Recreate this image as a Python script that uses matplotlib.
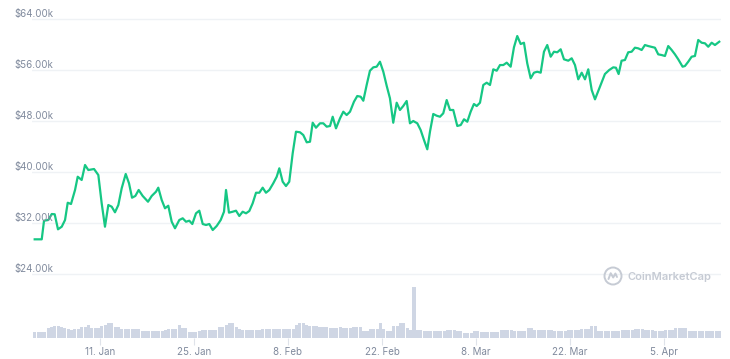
import matplotlib
matplotlib.use('Agg')
import matplotlib.pyplot as plt
import pandas as pd
import numpy as np
from matplotlib.patches import Circle
from matplotlib.lines import Line2D

start = pd.Timestamp('2021-01-01')

# days since 2021-01-01 of each price point
price_days = [
    0.27, 1.32, 1.66, 2.30, 2.81, 3.25, 3.74, 4.30, 4.79, 5.19,
    5.68, 6.28, 6.68, 7.27, 7.77, 8.26, 9.11, 9.75, 10.25, 10.74,
    11.24, 11.74, 12.23, 12.73, 13.23, 13.83, 14.32, 14.77, 15.26, 15.76,
    16.36, 17.15, 17.70, 18.34, 18.68, 19.19, 19.68, 20.17, 20.68, 21.17,
    21.81, 22.32, 22.81, 23.30, 23.75, 24.30, 24.79, 25.30, 25.79, 26.28,
    26.79, 27.38, 27.98, 28.47, 28.77, 29.21, 29.76, 30.26, 30.75, 31.25,
    31.75, 32.24, 32.74, 33.24, 33.73, 34.23, 34.72, 35.22, 35.81, 36.32,
    36.71, 37.21, 37.70, 38.19, 38.70, 39.19, 39.79, 40.28, 40.79, 41.28,
    41.68, 42.17, 42.77, 43.26, 43.77, 44.26, 44.66, 45.15, 45.75, 46.24,
    46.74, 47.24, 47.83, 48.32, 48.83, 49.22, 49.72, 50.21, 50.71, 51.21,
    51.70, 52.20, 52.71, 53.19, 53.68, 54.19, 54.68, 55.17, 55.68, 56.17,
    56.66, 57.26, 57.76, 58.26, 58.75, 59.15, 59.64, 60.15, 60.64, 61.13,
    61.64, 62.13, 62.62, 63.22, 63.73, 64.22, 64.71, 65.21, 65.70, 66.11,
    66.60, 67.09, 67.60, 68.09, 68.58, 69.09, 69.58, 70.07, 70.58, 71.17,
    71.66, 72.15, 72.66, 73.15, 73.64, 74.15, 74.64, 75.13, 75.64, 76.13,
    76.62, 77.13, 77.62, 78.11, 78.62, 79.11, 79.75, 80.26, 80.75, 81.24,
    81.75, 82.24, 82.73, 83.24, 83.73, 84.47, 85.21, 85.85, 86.45, 86.85,
    87.25, 87.69, 88.19, 88.68, 89.19, 89.68, 90.17, 90.68, 91.17, 91.66,
    92.66, 93.15, 93.66, 94.15, 94.64, 95.15, 95.64, 96.13, 96.78, 97.13,
    97.62, 98.13, 98.62, 99.11, 99.62, 100.11, 100.60, 101.11, 101.60, 102.24,
]

# price in thousands of USD
price_k = [
    29.44, 29.44, 32.36, 32.47, 33.41, 33.37, 31.01, 31.42, 32.47, 35.18,
    34.98, 37.18, 39.26, 38.75, 41.10, 40.31, 40.47, 39.53, 35.09, 31.42,
    34.82, 34.56, 33.68, 34.82, 37.44, 39.69, 38.23, 35.97, 36.24, 37.18,
    36.24, 35.34, 36.24, 36.91, 37.54, 35.61, 34.31, 34.71, 32.20, 31.17,
    32.47, 32.74, 32.20, 32.36, 31.84, 33.52, 33.93, 31.84, 31.69, 31.84,
    30.90, 31.53, 32.47, 33.77, 37.18, 33.62, 33.77, 33.93, 33.10, 33.77,
    33.52, 33.88, 35.09, 36.75, 36.75, 37.54, 36.75, 37.18, 38.23, 39.26,
    40.58, 38.48, 37.80, 38.48, 42.93, 46.32, 46.23, 45.80, 44.66, 44.75,
    47.73, 46.95, 47.64, 47.64, 47.11, 47.22, 48.67, 46.85, 48.42, 49.46,
    48.94, 49.46, 51.03, 51.92, 51.81, 51.18, 53.65, 55.89, 56.42, 56.52,
    57.30, 55.73, 53.49, 51.56, 47.73, 50.87, 49.73, 50.35, 51.14, 47.64,
    48.00, 47.64, 46.59, 45.02, 43.56, 46.32, 49.10, 48.83, 48.67, 49.21,
    51.29, 49.73, 49.73, 47.22, 47.37, 48.27, 47.89, 49.46, 50.67, 50.35,
    50.87, 53.65, 54.01, 53.65, 56.11, 55.89, 56.78, 56.78, 57.15, 56.52,
    59.56, 61.33, 60.08, 60.28, 57.05, 54.70, 55.58, 55.73, 55.58, 58.87,
    59.92, 58.09, 58.87, 58.78, 59.25, 57.68, 57.46, 57.84, 56.78, 54.54,
    55.58, 54.54, 56.11, 52.86, 51.40, 53.38, 55.37, 56.00, 56.42, 56.36,
    55.37, 57.46, 57.57, 58.78, 58.87, 59.50, 59.40, 59.14, 59.92, 59.76,
    59.50, 58.46, 58.35, 58.20, 59.76, 59.14, 58.46, 57.68, 56.52, 56.63,
    57.30, 58.09, 58.20, 60.71, 60.28, 60.19, 59.65, 60.28, 59.92, 60.44,
]

# relative traded volume, one value per 12 hours
volume_first_day = 0.27
volume_step_days = 0.5
volume_rel = [
    5.6, 5.6, 5.6, 6.0, 10.0, 10.7, 12.0, 12.0, 11.5, 10.0,
    8.7, 8.5, 8.7, 9.5, 11.3, 11.5, 12.7, 10.5, 9.7, 9.7,
    12.5, 13.0, 15.3, 15.0, 11.0, 10.7, 9.0, 8.7, 8.7, 8.7,
    8.7, 9.0, 7.0, 7.0, 7.0, 6.8, 7.0, 7.0, 7.5, 8.0,
    9.0, 9.0, 9.5, 13.0, 10.0, 10.0, 6.3, 6.3, 6.3, 7.0,
    8.0, 8.0, 8.0, 8.5, 8.0, 11.3, 11.3, 13.0, 15.3, 15.3,
    11.0, 9.0, 7.7, 7.7, 7.7, 8.0, 8.3, 8.3, 9.0, 9.0,
    9.0, 9.0, 9.3, 9.3, 9.3, 9.0, 9.0, 9.0, 13.3, 15.0,
    15.0, 13.3, 11.7, 11.7, 11.7, 11.0, 11.0, 11.0, 10.0, 10.0,
    10.0, 11.0, 10.0, 10.0, 10.0, 11.0, 11.0, 11.0, 7.3, 7.3,
    9.0, 9.0, 9.0, 15.0, 9.0, 7.3, 7.3, 12.3, 12.3, 15.0,
    15.0, 10.0, 8.3, 51.0, 8.3, 8.3, 6.7, 7.3, 7.3, 7.3,
    7.3, 6.7, 6.7, 8.3, 8.3, 8.3, 6.7, 6.7, 5.0, 5.0,
    5.0, 6.7, 6.7, 5.7, 5.7, 5.7, 5.7, 5.7, 5.7, 7.7,
    7.7, 7.7, 7.7, 6.7, 6.7, 6.7, 6.7, 10.0, 10.0, 8.3,
    8.3, 8.3, 7.7, 7.7, 7.7, 6.7, 6.7, 6.7, 6.7, 7.7,
    7.7, 7.7, 7.7, 9.0, 9.0, 9.0, 11.7, 11.7, 7.3, 7.3,
    7.3, 6.7, 6.7, 6.7, 6.7, 8.3, 8.3, 8.3, 8.3, 9.0,
    9.0, 9.0, 7.7, 7.7, 7.7, 6.7, 6.7, 6.7, 8.3, 8.3,
    8.3, 10.0, 10.0, 10.0, 10.0, 7.3, 7.3, 7.3, 7.3, 6.7,
    6.7, 6.7, 6.7, 6.7, 6.7,
]

y_ticks_k = [24, 32, 40, 48, 56, 64]
y_tick_labels = ['$24.00k', '$32.00k', '$40.00k', '$48.00k', '$56.00k', '$64.00k']
x_tick_dates = ['2021-01-11', '2021-01-25', '2021-02-08', '2021-02-22',
                '2021-03-08', '2021-03-22', '2021-04-05']
x_tick_labels = ['11. Jan', '25. Jan', '8. Feb', '22. Feb', '8. Mar', '22. Mar', '5. Apr']

LINE = '#16c784'
BAR = '#cfd6e4'
GRID = '#eff2f5'
TXT = '#808a9d'
FONT = ['Inter', 'DejaVu Sans']

plt.rcParams['font.family'] = FONT

W, H = 730, 359
fig = plt.figure(figsize=(W / 100, H / 100), dpi=100)
fig.patch.set_facecolor('white')

ax_l, ax_r, ax_t, ax_b = 32, 721, 15, 338
ax = fig.add_axes([ax_l / W, (H - ax_b) / H, (ax_r - ax_l) / W, (ax_b - ax_t) / H])

price_dates = start + pd.to_timedelta(price_days, unit='D')
vol_days = volume_first_day + volume_step_days * np.arange(len(volume_rel))
vol_dates = start + pd.to_timedelta(vol_days, unit='D')

ax.plot(price_dates, price_k, color=LINE, lw=1.6, solid_joinstyle='round', zorder=3)
ax.set_ylim(13.96, 64.63)
ax.set_xlim(start + pd.Timedelta(days=-0.13), start + pd.Timedelta(days=102.5))

ax.set_yticks(y_ticks_k)
ax.set_yticklabels([])
ax.tick_params(axis='y', length=0)
ax.grid(axis='y', color=GRID, lw=1)
ax.set_axisbelow(True)
for s in ax.spines.values():
    s.set_visible(False)

ax.set_xticks(pd.to_datetime(x_tick_dates))
ax.set_xticklabels(x_tick_labels)
ax.tick_params(axis='x', length=5, width=0.8, color='#dfe3ea', pad=1.5,
               labelsize=7, labelcolor=TXT)

for v, lab in zip(y_ticks_k, y_tick_labels):
    ax.annotate(lab, xy=((14 - ax_l) / (ax_r - ax_l), v), xycoords=ax.get_yaxis_transform(),
                xytext=(0, 5), textcoords='offset pixels', ha='left', va='center',
                fontsize=7, color=TXT, annotation_clip=False)

ax_v = ax.twinx()
ax_v.bar(vol_dates, volume_rel, width=0.45, color=BAR, align='center', lw=0, zorder=1)
ax_v.set_ylim(0, ax_b - ax_t)
ax_v.set_yticks([])
for s in ax_v.spines.values():
    s.set_visible(False)

# CoinMarketCap watermark
WM = '#c6cbd4'
cx, cy, r = 613, 276, 8.5
circ = Circle((cx / 100, (H - cy) / 100), r / 100, transform=fig.dpi_scale_trans,
              fill=False, lw=1.4, ec=WM)
fig.add_artist(circ)
mx = np.array([-4.5, -2.3, 0.2, 2.4, 4.0]) + cx
my = np.array([3.0, -2.8, 1.5, -2.5, 1.0]) + cy
fig.add_artist(Line2D(mx / 100, (H - my) / 100, transform=fig.dpi_scale_trans,
                      color=WM, lw=1.4, solid_joinstyle='round', solid_capstyle='round'))
fig.text(628 / W, (H - 277) / H, 'CoinMarketCap', ha='left', va='center',
         fontsize=8, fontweight='semibold', color=WM)

fig.savefig('out.png', dpi=100, facecolor='white')
